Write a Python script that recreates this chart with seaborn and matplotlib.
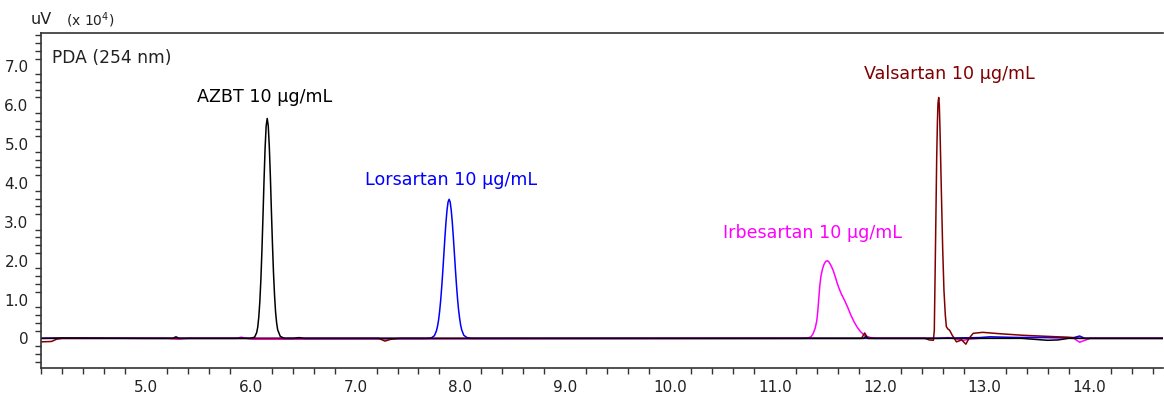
import matplotlib
matplotlib.use("Agg")
import matplotlib.pyplot as plt
from matplotlib.ticker import MultipleLocator
import seaborn as sns
import pandas as pd

# ---- data (time in min, signal in uV x 10^4) ----
azbt_t = [4.0, 4.2, 5.0, 5.257, 5.287, 5.317, 5.9, 5.992, 6.037, 6.057, 6.067, 6.077,
          6.087, 6.097, 6.107, 6.117, 6.127, 6.137, 6.147, 6.157, 6.167, 6.177, 6.187,
          6.197, 6.207, 6.217, 6.227, 6.237, 6.247, 6.257, 6.282, 6.322, 6.41, 6.46,
          6.51, 11.845, 11.865, 11.885, 13.35, 13.5, 13.6, 13.7, 13.8, 14.0, 14.7]
azbt_v = [0.0, 0.01, 0.0, 0.0, 0.04, 0.0, 0.0, 0.0, 0.03, 0.15, 0.29, 0.55,
          0.95, 1.52, 2.27, 3.15, 4.07, 4.89, 5.46, 5.66, 5.48, 4.95, 4.20,
          3.30, 2.45, 1.70, 1.12, 0.68, 0.40, 0.22, 0.05, 0.0, 0.0, 0.02,
          0.0, 0.0, 0.05, 0.0, 0.0, -0.03, -0.05, -0.04, 0.0, 0.0, 0.0]

lors_t = [4.0, 7.672, 7.722, 7.752, 7.772, 7.782, 7.792, 7.802, 7.812, 7.822, 7.832,
          7.842, 7.852, 7.862, 7.872, 7.882, 7.892, 7.902, 7.912, 7.922, 7.932, 7.942,
          7.952, 7.962, 7.972, 7.982, 7.992, 8.002, 8.012, 8.032, 8.062, 8.102,
          12.55, 12.95, 13.05, 13.35, 13.85, 13.905, 13.955, 14.7]
lors_v = [0.0, 0.0, 0.01, 0.07, 0.20, 0.32, 0.48, 0.71, 0.99, 1.34, 1.74,
          2.17, 2.60, 2.99, 3.30, 3.51, 3.58, 3.51, 3.30, 3.00, 2.62, 2.20,
          1.78, 1.38, 1.03, 0.74, 0.52, 0.34, 0.22, 0.08, 0.02, 0.0,
          0.0, 0.02, 0.04, 0.02, 0.02, 0.06, 0.0, 0.0]

irbe_t = [4.0, 5.207, 5.307, 5.407, 5.86, 5.91, 5.96, 6.01, 6.36, 11.243, 11.313,
          11.343, 11.363, 11.383, 11.398, 11.408, 11.418, 11.428, 11.438, 11.453,
          11.468, 11.483, 11.50, 11.513, 11.533, 11.553, 11.573, 11.593, 11.613,
          11.633, 11.663, 11.693, 11.723, 11.753, 11.783, 11.813, 11.843, 11.873,
          11.913, 11.948, 12.55, 12.65, 12.8, 12.85, 12.95, 13.55, 13.85, 13.905,
          13.955, 14.005, 14.7]
irbe_v = [0.0, 0.0, -0.02, 0.0, 0.0, 0.03, 0.0, -0.02, -0.02, 0.0, 0.01,
          0.04, 0.12, 0.26, 0.45, 0.70, 1.05, 1.38, 1.60, 1.79,
          1.91, 1.98, 2.00, 1.97, 1.88, 1.76, 1.60, 1.42, 1.27,
          1.14, 0.98, 0.80, 0.60, 0.43, 0.29, 0.18, 0.10, 0.05,
          0.02, 0.0, 0.0, 0.02, -0.05, -0.02, 0.0, 0.03, 0.0, -0.10,
          -0.05, 0.0, 0.0]

vals_t = [4.0, 4.1, 4.15, 4.2, 7.22, 7.28, 7.34, 7.42, 11.825, 11.855, 11.885, 12.43,
          12.47, 12.51, 12.519, 12.529, 12.542, 12.549, 12.554, 12.561, 12.567, 12.574,
          12.586, 12.599, 12.611, 12.624, 12.634, 12.649, 12.665, 12.69, 12.71, 12.73,
          12.78, 12.82, 12.85, 12.89, 12.98, 13.14, 13.36, 13.61, 13.78, 13.91, 14.7]
vals_v = [-0.09, -0.08, -0.02, 0.0, 0.0, -0.07, -0.02, 0.0, 0.0, 0.14, 0.0, 0.0,
          -0.04, -0.05, 0.2, 2.1, 4.67, 5.6, 6.05, 6.20, 6.0, 5.3,
          3.82, 2.3, 1.24, 0.6, 0.30, 0.24, 0.21, 0.08, 0.0, -0.09,
          -0.04, -0.15, 0.0, 0.13, 0.155, 0.12, 0.08, 0.05, 0.03, 0.0, 0.0]

labels = ["AZBT 10 µg/mL", "Lorsartan 10 µg/mL", "Irbesartan 10 µg/mL", "Valsartan 10 µg/mL"]
label_pos = [(6.135, 6.21), (7.913, 4.07), (11.359, 2.71), (12.661, 6.80)]
colors = ["#000000", "#0000FF", "#FF00FF", "#800000"]

y_ticks = [0, 1, 2, 3, 4, 5, 6, 7]
y_ticklabels = ["0", "1.0", "2.0", "3.0", "4.0", "5.0", "6.0", "7.0"]
x_ticks = [5, 6, 7, 8, 9, 10, 11, 12, 13, 14]
x_ticklabels = ["5.0", "6.0", "7.0", "8.0", "9.0", "10.0", "11.0", "12.0", "13.0", "14.0"]

# ---- plotting ----
sns.set_style("white")
plt.rcParams["font.family"] = ["DejaVu Sans"]

fig = plt.figure(figsize=(11.64, 3.94), dpi=100)
ax = fig.add_axes([41 / 1164, 1 - 367.5 / 394, 1 - 42 / 1164, (367.5 - 33) / 394])

traces = [(irbe_t, irbe_v, colors[2]), (lors_t, lors_v, colors[1]),
          (vals_t, vals_v, colors[3]), (azbt_t, azbt_v, colors[0])]
for t, v, c in traces:
    df = pd.DataFrame({"t": t, "v": v})
    sns.lineplot(data=df, x="t", y="v", ax=ax, color=c, lw=1.1, sort=False,
                 estimator=None)

for (tx, ty), lab, c in zip(label_pos, labels, colors):
    ax.text(tx, ty, lab, color=c, fontsize=12.6, ha="center", va="center")

ax.text(11 / 1122, (367.5 - 58) / 334.5, "PDA (254 nm)", transform=ax.transAxes,
        fontsize=12.3, ha="left", va="center", color="#222222")
fig.text(31 / 1164, 1 - 20 / 394, "uV", fontsize=11.5, ha="left", va="center",
         color="#222222")
fig.text(66 / 1164, 1 - 20 / 394, "(x 10$^4$)", fontsize=10, ha="left", va="center",
         color="#222222")

ax.set_xlim(4.0, 14.7)
ax.set_ylim(-0.75, 7.86)
ax.set_xticks(x_ticks)
ax.set_xticklabels(x_ticklabels)
ax.set_yticks(y_ticks)
ax.set_yticklabels(y_ticklabels)
ax.xaxis.set_minor_locator(MultipleLocator(0.2))
ax.yaxis.set_minor_locator(MultipleLocator(0.2))
ax.set_xlabel("")
ax.set_ylabel("")

for side in ["left", "bottom", "top", "right"]:
    ax.spines[side].set_color("#333333")
    ax.spines[side].set_linewidth(1.2)
ax.spines["right"].set_visible(False)

ax.tick_params(axis="y", which="major", direction="out", length=8, width=1,
               color="#333333", labelsize=11, pad=1, labelcolor="#222222")
ax.tick_params(axis="y", which="minor", direction="out", length=4, width=1,
               color="#333333", left=True)
ax.tick_params(axis="x", which="major", direction="out", length=4, width=1,
               color="#333333", labelsize=11, pad=5, labelcolor="#222222")
ax.tick_params(axis="x", which="minor", direction="out", length=4, width=1,
               color="#333333", bottom=True)

fig.savefig("out.png", dpi=100)
